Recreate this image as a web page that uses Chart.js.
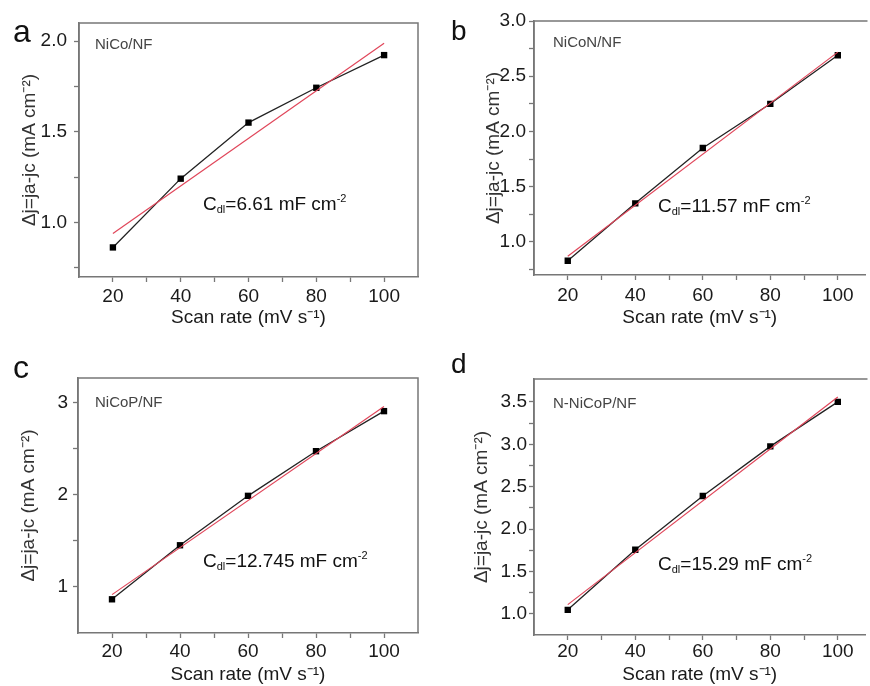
<!DOCTYPE html>
<html>
<head>
<meta charset="utf-8">
<script src="https://cdn.jsdelivr.net/npm/chart.js@4.4.1/dist/chart.umd.min.js"></script>
<style>
html{margin:0;padding:0;overflow:hidden;width:870px;height:686px;background:#fff;}
body{margin:0;padding:0;width:870px;height:686px;overflow:hidden;position:relative;background:#fff;font-family:"Liberation Sans",Arial,sans-serif;}
canvas{position:absolute;}
.txt{position:absolute;white-space:nowrap;}
.letter{color:#111;}
.sample{font-size:15px;line-height:15px;color:#444;}
.cdl{font-size:19px;line-height:19px;color:#111;}
.cdl sub{font-size:11px;position:relative;top:3px;vertical-align:baseline;}
.cdl sup{font-size:11px;position:relative;top:-8px;vertical-align:baseline;}
</style>
</head>
<body>
<canvas id="ca"></canvas>
<canvas id="cb"></canvas>
<canvas id="cc"></canvas>
<canvas id="cd"></canvas>

<div class="txt letter" style="left:13px;top:15px;font-size:32px;line-height:32px;">a</div>
<div class="txt letter" style="left:451px;top:17px;font-size:28px;line-height:28px;">b</div>
<div class="txt letter" style="left:13px;top:351px;font-size:32px;line-height:32px;">c</div>
<div class="txt letter" style="left:451px;top:350px;font-size:28px;line-height:28px;">d</div>

<div class="txt sample" style="left:95px;top:36px;">NiCo/NF</div>
<div class="txt sample" style="left:553px;top:34px;">NiCoN/NF</div>
<div class="txt sample" style="left:95px;top:394px;">NiCoP/NF</div>
<div class="txt sample" style="left:553px;top:395px;">N-NiCoP/NF</div>

<div class="txt cdl" style="left:203px;top:194px;">C<sub>dl</sub>=6.61 mF cm<sup>-2</sup></div>
<div class="txt cdl" style="left:658px;top:196px;">C<sub>dl</sub>=11.57 mF cm<sup>-2</sup></div>
<div class="txt cdl" style="left:203px;top:551px;">C<sub>dl</sub>=12.745 mF cm<sup>-2</sup></div>
<div class="txt cdl" style="left:658px;top:554px;">C<sub>dl</sub>=15.29 mF cm<sup>-2</sup></div>

<script>
// ---------- data ----------
const scanRates = [20, 40, 60, 80, 100];
const niCoNF   = [0.863, 1.242, 1.551, 1.743, 1.923];
const niCoNNF  = [0.829, 1.349, 1.850, 2.250, 2.690];
const niCoPNF  = [0.866, 1.453, 1.990, 2.475, 2.910];
const nNiCoPNF = [1.047, 1.756, 2.390, 2.975, 3.500];

const xTickValues = [20, 30, 40, 50, 60, 70, 80, 90, 100];
const xTickLabels = [20, 40, 60, 80, 100];

const yTicksA  = [0.75, 1.0, 1.25, 1.5, 1.75, 2.0];
const yLabelsA = [1.0, 1.5, 2.0];
const yTicksB  = [0.75, 1.0, 1.25, 1.5, 1.75, 2.0, 2.25, 2.5, 2.75, 3.0];
const yLabelsB = [1.0, 1.5, 2.0, 2.5, 3.0];
const yTicksC  = [1, 1.5, 2, 2.5, 3];
const yLabelsC = [1, 2, 3];
const yTicksD  = [1.0, 1.25, 1.5, 1.75, 2.0, 2.25, 2.5, 2.75, 3.0, 3.25, 3.5];
const yLabelsD = [1.0, 1.5, 2.0, 2.5, 3.0, 3.5];

const xTitle = 'Scan rate (mV s\u207B\u00B9)';
const yTitle = '\u0394j=ja-jc (mA cm\u207B\u00B2)';

// ---------- helpers ----------
function linFit(xs, ys) {
  const n = xs.length;
  const mx = xs.reduce((a, b) => a + b, 0) / n;
  const my = ys.reduce((a, b) => a + b, 0) / n;
  let sxy = 0, sxx = 0;
  for (let i = 0; i < n; i++) { sxy += (xs[i] - mx) * (ys[i] - my); sxx += (xs[i] - mx) ** 2; }
  const k = sxy / sxx, b = my - k * mx;
  return [{x: xs[0], y: k * xs[0] + b}, {x: xs[n - 1], y: k * xs[n - 1] + b}];
}
const near = (arr, v) => arr.some(a => Math.abs(a - v) < 1e-6);

const AXIS = '#777777';
const FONT = {family: '"Liberation Sans", Arial, sans-serif', size: 19};

const framePlugin = {
  id: 'frame',
  afterDraw(chart, args, opts) {
    const {ctx, chartArea: a} = chart;
    ctx.save();
    ctx.strokeStyle = AXIS;
    ctx.lineWidth = 1.5;
    ctx.beginPath();
    ctx.moveTo(a.left, a.bottom);
    ctx.lineTo(a.left, a.top);
    ctx.lineTo(a.right + (opts.showRight ? 0 : 2), a.top);
    if (opts.showRight) ctx.lineTo(a.right, a.bottom);
    ctx.stroke();
    ctx.restore();
  }
};

function makePanel(id, g, values, yMin, yMax, yTicks, yLabels, dec) {
  const cv = document.getElementById(id);
  cv.style.left = g.left + 'px';
  cv.style.top = g.top + 'px';
  cv.style.width = g.w + 'px';
  cv.style.height = g.h + 'px';
  cv.width = g.w; cv.height = g.h;
  const pts = scanRates.map((x, i) => ({x, y: values[i]}));
  new Chart(cv, {
    type: 'line',
    data: {
      datasets: [
        {data: linFit(scanRates, values), borderColor: '#e0465a', borderWidth: 1.2,
         pointRadius: 0, fill: false},
        {data: pts, borderColor: '#222', borderWidth: 1.3, pointStyle: 'rect',
         pointRadius: 4.5, pointBackgroundColor: '#000', pointBorderColor: '#000',
         pointBorderWidth: 0, fill: false}
      ]
    },
    options: {
      responsive: false, animation: false, devicePixelRatio: 1,
      layout: {padding: {left: 0, top: g.padTop, right: g.padRight, bottom: 0}},
      plugins: {legend: {display: false}, tooltip: {enabled: false},
                frame: {showRight: g.showRight}},
      scales: {
        x: {
          type: 'linear', min: 10, max: g.xMax,
          afterBuildTicks: s => { s.ticks = xTickValues.map(v => ({value: v})); },
          afterFit: s => { s.height = g.xH; },
          grid: {drawOnChartArea: false, drawTicks: true, tickLength: 5, color: AXIS, tickWidth: 1.3},
          border: {color: AXIS, width: 1.5},
          ticks: {autoSkip: false, maxRotation: 0, padding: g.xPad, color: '#1a1a1a', font: FONT,
                  callback: v => near(xTickLabels, v) ? String(v) : ''},
          title: {display: true, text: xTitle, color: '#1a1a1a', font: FONT,
                  padding: {top: 0, bottom: g.xTitlePad}}
        },
        y: {
          type: 'linear', min: yMin, max: yMax,
          afterBuildTicks: s => { s.ticks = yTicks.map(v => ({value: v})); },
          afterFit: s => { s.width = g.yW; },
          grid: {drawOnChartArea: false, drawTicks: true, tickLength: 5, color: AXIS, tickWidth: 1.3},
          border: {color: AXIS, width: 1.5},
          ticks: {autoSkip: false, padding: g.yPad, color: '#1a1a1a', font: FONT,
                  callback: v => near(yLabels, v) ? v.toFixed(dec) : ''},
          title: {display: true, text: yTitle, color: '#333', font: FONT,
                  padding: {top: g.yTitlePad, bottom: 0}}
        }
      }
    },
    plugins: [framePlugin]
  });
}

// geometry (canvas placement + axis sizing); right panels are cut by the page edge
makePanel('ca', {left: 0,   top: 0,   w: 430, h: 340, padTop: 23, padRight: 12, xH: 63, yW: 79,
                 xMax: 110, showRight: true,
                 xPad: 3, xTitlePad: 10.6, yPad: 7, yTitlePad: 18.6},
          niCoNF, 0.7, 2.1, yTicksA, yLabelsA, 1);
makePanel('cb', {left: 435, top: 0,   w: 435, h: 340, padTop: 21, padRight: 0, xH: 65, yW: 99,
                 xMax: 108.2, showRight: false,
                 xPad: 4, xTitlePad: 10.6, yPad: 3, yTitlePad: 47.6},
          niCoNNF, 0.7, 3.0, yTicksB, yLabelsB, 1);
makePanel('cc', {left: 0,   top: 346, w: 430, h: 340, padTop: 32, padRight: 12, xH: 53, yW: 78,
                 xMax: 110, showRight: true,
                 xPad: 2, xTitlePad: 0, yPad: 5, yTitlePad: 17.6},
          niCoPNF, 0.5, 3.27, yTicksC, yLabelsC, 0);
makePanel('cd', {left: 435, top: 346, w: 435, h: 340, padTop: 33, padRight: 0, xH: 51, yW: 99,
                 xMax: 108.2, showRight: false,
                 xPad: 0, xTitlePad: 0, yPad: 2, yTitlePad: 35},
          nNiCoPNF, 0.75, 3.77, yTicksD, yLabelsD, 1);
</script>
</body>
</html>
